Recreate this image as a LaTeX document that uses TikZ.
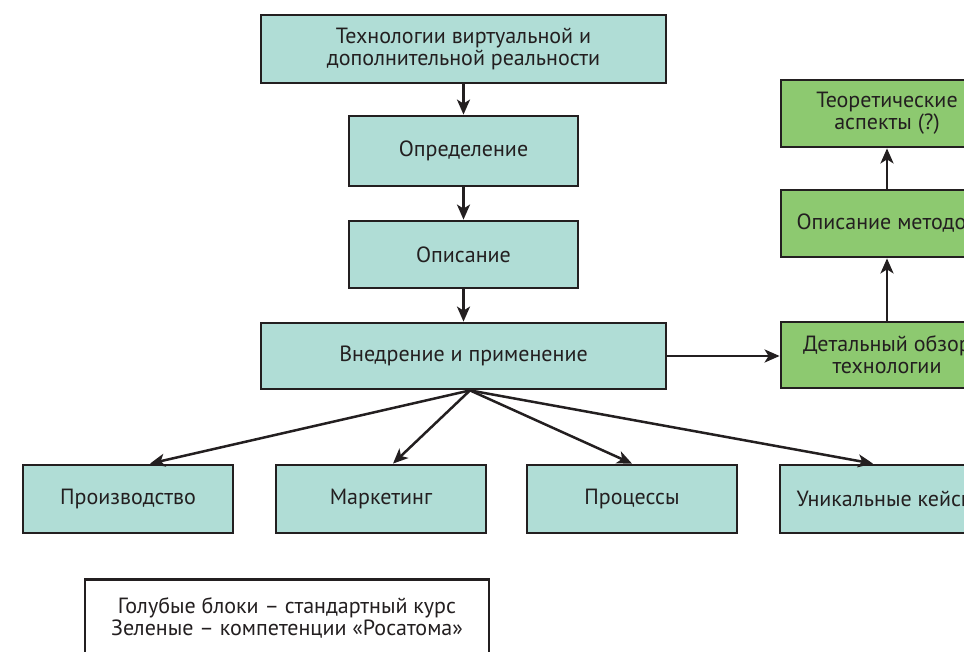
\documentclass[tikz,border=0pt]{standalone}
\usepackage{fontspec}
\setmainfont{PT Sans}
\usepackage{xcolor}
\usetikzlibrary{arrows.meta}
\usetikzlibrary{positioning}

\definecolor{blokblue}{RGB}{176,221,214}
\definecolor{blokgreen}{RGB}{141,201,112}
\definecolor{tekst}{RGB}{35,31,32}

\begin{document}
\begin{tikzpicture}[
    x=1pt, y=-1pt,
    blok/.style={rectangle, draw=tekst, line width=2.8pt, fill=blokblue, text=tekst,
        font=\fontsize{22}{22}\selectfont, align=center, inner sep=0pt},
    zel/.style={blok, fill=blokgreen},
    legend/.style={rectangle, draw=tekst, line width=2.8pt, fill=white, text=tekst,
        font=\fontsize{22}{22}\selectfont, align=center, inner xsep=0pt, inner ysep=18pt},
    strelka/.style={draw=tekst, line width=2.5pt, -{Stealth[length=15pt, width=13pt, inset=4pt]}}
]
\useasboundingbox (0,0) rectangle (964,652);
\clip (0,0) rectangle (964,652);

% Стандартный курс
\node[blok, minimum width=405, minimum height=68] (tech) at (463.5,49) {Технологии виртуальной и\\дополнительной реальности};
\node[blok, minimum width=229, minimum height=70] (opred) at (463.5,151) {Определение};
\node[blok, minimum width=229, minimum height=67] (opis) at (463.5,254.5) {Описание};
\node[blok, minimum width=405, minimum height=66] (vnedr) at (463.5,356) {Внедрение и применение};

% Области применения
\node[blok, minimum width=210, minimum height=68] (proizv) at (128,499) {Производство};
\node[blok, minimum width=210, minimum height=68] (market) at (381,499) {Маркетинг};
\node[blok, minimum width=210, minimum height=68] (proc) at (632,499) {Процессы};
\node[blok, minimum width=212, minimum height=68] (keis) at (886,499) {Уникальные кейсы};

% Компетенции
\node[zel, minimum width=212, minimum height=67] (teor) at (887,113.5) {Теоретические\\аспекты (?)};
\node[zel, minimum width=212, minimum height=67] (metod) at (887,223.5) {Описание методов};
\node[zel, minimum width=212, minimum height=66] (obzor) at (887,355) {Детальный обзор\\технологии};

% Пояснение
\node[legend, anchor=north, minimum width=404, text depth=90pt] (legend) at (287,578) {Голубые блоки – стандартный курс\\Зеленые – компетенции «Росатома»};

% Связи
\draw[strelka] (tech) -- (opred);
\draw[strelka] (opred) -- (opis);
\draw[strelka] (opis) -- (vnedr);
\coordinate (razv) at ([xshift=6.5]vnedr.south);
\draw[strelka] (razv) -- ([xshift=22]proizv.north);
\draw[strelka] (razv) -- ([xshift=12]market.north);
\draw[strelka] (razv) -- (proc.north);
\draw[strelka] (razv) -- ([xshift=-13]keis.north);
\draw[strelka] (vnedr.east) -- (obzor.west |- vnedr.east);
\draw[strelka] (obzor) -- (metod);
\draw[strelka] (metod) -- (teor);

\end{tikzpicture}
\end{document}
